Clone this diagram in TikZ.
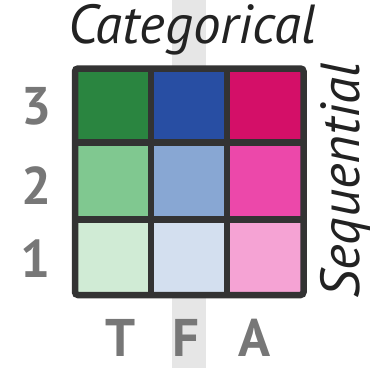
\documentclass[tikz,border=0pt]{standalone}
\usepackage{fontspec}
\setmainfont{PT Sans}
\usepackage{tikz}
\usetikzlibrary{positioning}
\usepackage{xcolor}

\definecolor{greenD}{HTML}{2A8540}
\definecolor{greenM}{HTML}{80C890}
\definecolor{greenL}{HTML}{D0EBD5}
\definecolor{blueD}{HTML}{284EA3}
\definecolor{blueM}{HTML}{88A7D3}
\definecolor{blueL}{HTML}{D3DFEF}
\definecolor{pinkD}{HTML}{D40F68}
\definecolor{pinkM}{HTML}{EC48AA}
\definecolor{pinkL}{HTML}{F5A3D4}
\definecolor{gridgray}{HTML}{333333}
\definecolor{bandgray}{HTML}{E6E6E6}
\definecolor{labelgray}{HTML}{777777}
\definecolor{titlegray}{HTML}{222222}

\begin{document}
\begin{tikzpicture}[
    x=1pt, y=-1pt,
    cell/.style={rectangle, minimum size=76pt, inner sep=0pt, fill=#1},
    grid/.style={draw=gridgray, line width=6.5pt},
    lbl/.style={font=\fontsize{53}{53}\selectfont\bfseries, text=labelgray, inner sep=0pt},
    ttl/.style={font=\fontsize{55}{55}\selectfont\itshape, text=titlegray, inner sep=0pt}
]
\useasboundingbox (0,0) rectangle (375,368);

% Highlight band behind column F
\fill[bandgray] (172,0) rectangle (206,368);

% Cells
\node[cell=greenD] (t3) at (113,105.5) {};
\node[cell=blueD]  (f3) at (189,105.5) {};
\node[cell=pinkD]  (a3) at (265,105.5) {};
\node[cell=greenM] (t2) at (113,181.5) {};
\node[cell=blueM]  (f2) at (189,181.5) {};
\node[cell=pinkM]  (a2) at (265,181.5) {};
\node[cell=greenL] (t1) at (113,257.5) {};
\node[cell=blueL]  (f1) at (189,257.5) {};
\node[cell=pinkL]  (a1) at (265,257.5) {};

% Grid
\draw[grid, rounded corners=3pt] (75,68.5) rectangle (303.5,295);
\foreach \x in {151,227}
  \draw[grid] (\x,68.5) -- (\x,295);
\foreach \y in {142.5,219.5}
  \draw[grid] (75,\y) -- (303.5,\y);

% Titles
\node[ttl, anchor=base] (cat) at (192,43) {Categorical};
\node[ttl, anchor=base, rotate=90] (seq) at (359,180.5) {Sequential};

% Row labels
\node[lbl] (r3) at (37,106.5) {3};
\node[lbl] (r2) at (37,186) {2};
\node[lbl] (r1) at (36,259) {1};

% Column labels
\node[lbl] (ct) at (121,338) {T};
\node[lbl] (cf) at (186,338) {F};
\node[lbl] (ca) at (255,338) {A};

\end{tikzpicture}
\end{document}
